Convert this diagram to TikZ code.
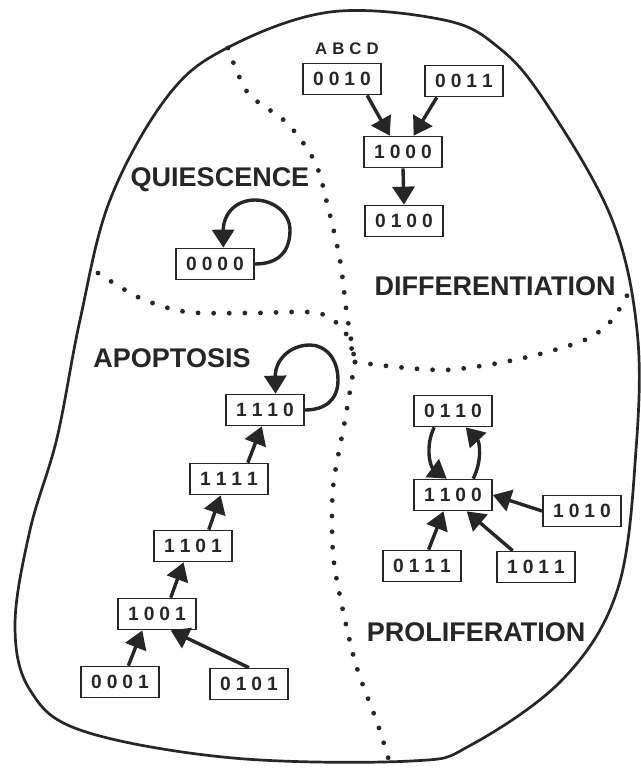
\documentclass[tikz,border=0pt]{standalone}
\usepackage{fontspec}
\setmainfont{Liberation Sans}
\usepackage{tikz}
\usetikzlibrary{arrows.meta}
\newcommand{\statebits}[4]{#1\hspace{2.5pt}#2\hspace{2.5pt}#3\hspace{2.5pt}#4}

\begin{document}
\begin{tikzpicture}[x=0.5pt,y=-0.5pt,color=black!85,
    state/.style={draw,line width=0.85pt,minimum width=39pt,minimum height=15.5pt,inner sep=0pt,
      font=\fontsize{9.6}{10}\selectfont\bfseries},
    phase/.style={inner sep=0pt,font=\fontsize{13.5}{15}\selectfont\bfseries},
    arr/.style={line width=1.7pt,-{Triangle[length=9pt,width=11pt]}},
    divider/.style={line width=2.4pt,line cap=round,dash pattern=on 0pt off 7.8pt}]
      \useasboundingbox (0,0) rectangle (641,768);
      \draw[line width=1.35pt] plot[smooth cycle,tension=0.6] coordinates {(330,12) (444,20) (498,47) (544,100) (611,217) (637,330) (636,450) (618,588) (564,678) (471,745) (411,761) (233,758) (83,731) (30,690) (15,625) (30,530) (57,438) (80,320) (110,200) (167,97) (227,48)};
      \draw[divider] plot[smooth] coordinates {(228,48) (248,93) (287,123) (315,162) (328,207) (340,260) (347,315) (355,362)};
      \draw[divider] plot[smooth] coordinates {(98,273) (140,298) (187,312) (253,313) (318,313) (345,332) (355,362)};
      \draw[divider] plot[smooth] coordinates {(355,362) (397,367) (445,370) (493,364) (540,354) (587,339) (612,320) (630,290)};
      \draw[divider] plot[smooth] coordinates {(355,362) (345,420) (333,488) (333,553) (341,601) (356,665) (378,725) (390,764)};
      \node[phase] (quies) at (220,180) {QUIESCENCE};
      \node[phase] (diff) at (495,286) {DIFFERENTIATION};
      \node[phase] (apop) at (172,358) {APOPTOSIS};
      \node[phase] (prolif) at (476,632) {PROLIFERATION};
      \node[inner sep=0pt,font=\fontsize{8.4}{9}\selectfont\bfseries] (abcd) at (347,49) {\statebits ABCD};
      \node[state] (n0010) at (342,79) {\statebits0010};
      \node[state] (n0011) at (464,81) {\statebits0011};
      \node[state] (n1000) at (403,152) {\statebits1000};
      \node[state] (n0100) at (404,221) {\statebits0100};
      \node[state] (n0000) at (215,264) {\statebits0000};
      \node[state] (n1110) at (265,410) {\statebits1110};
      \node[state] (n1111) at (229,479) {\statebits1111};
      \node[state] (n1101) at (193,546) {\statebits1101};
      \node[state] (n1001) at (157,614) {\statebits1001};
      \node[state] (n0001) at (120,682) {\statebits0001};
      \node[state] (n0101) at (249,684) {\statebits0101};
      \node[state] (n0110) at (453,411) {\statebits0110};
      \node[state] (n1100) at (453,495) {\statebits1100};
      \node[state] (n1010) at (582,511) {\statebits1010};
      \node[state] (n0111) at (422,566) {\statebits0111};
      \node[state] (n1011) at (536,567) {\statebits1011};
      \draw[arr] (n0010.-33) -- (n1000.129);
      \draw[arr] (n0011.211) -- (n1000.57);
      \draw[arr] (n1000.south) -- (n0100.north);
      \draw[arr] (n0000.east) .. controls (280,264) and (290,250) .. (290,230) .. controls (290,212) and (272,200) .. (255,200) .. controls (235,200) and (223,215) .. (n0000.63);
      \draw[arr] (n1110.east) .. controls (325,410) and (338,400) .. (338,380) .. controls (338,358) and (325,345) .. (310,345) .. controls (290,345) and (275,360) .. (n1110.57);
      \draw[arr] (n0001.63) -- (n1001.228);
      \draw[arr] (n0101.north) -- (n1001.-50);
      \draw[arr] (n1001.50) -- (n1101.240);
      \draw[arr] (n1101.46) -- (n1111.243);
      \draw[arr] (n1111.41) -- (n1110.259);
      \draw[arr] (n0110.221) to[bend right=40] (n1100.111);
      \draw[arr] (n1100.39) to[bend right=35] (n0110.-52);
      \draw[arr] (n1010.west) -- (n1100.east);
      \draw[arr] (n0111.68) -- (n1100.240);
      \draw[arr] (n1011.145) -- (n1100.-50);
    \end{tikzpicture}
\end{document}
